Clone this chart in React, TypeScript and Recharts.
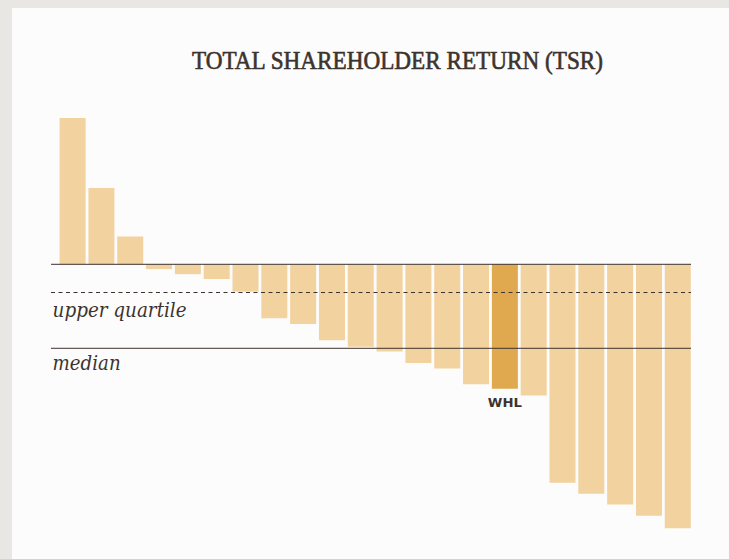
import React from "react";
import { BarChart, Bar, XAxis, YAxis, Cell, ReferenceLine, LabelList } from "recharts";

const companies = [
  "C01", "C02", "C03", "C04", "C05", "C06", "C07", "C08", "C09", "C10", "C11",
  "C12", "C13", "C14", "C15", "WHL", "C17", "C18", "C19", "C20", "C21", "C22",
];
const tsr = [
  48.8, 25.4, 9.3, -1.6, -3.3, -4.9, -9.1, -18.0, -19.9, -25.3, -27.5,
  -29.1, -32.9, -34.7, -40.0, -41.5, -43.7, -72.8, -76.5, -80.1, -83.8, -88.0,
];
const highlight = "WHL";
const upperQuartile = -9.4;
const median = -28.0;
const title = "TOTAL SHAREHOLDER RETURN (TSR)";
const upperLabel = "upper quartile";
const medianLabel = "median";

const data = companies.map((name, i) => ({ name, tsr: tsr[i] }));

const INK = "#3d332e";
const BAR = "#f2d29e";
const BAR_HI = "#e0a950";
const TITLE_FONT = "'Liberation Serif', serif";
const LABEL_FONT = "'DejaVu Serif', serif";

const makeLine = (dash?: string, label?: string, labelWidth?: number, labelDy?: number) => (props: any) => {
  const { x1, x2, y1 } = props;
  return (
    <g>
      <line x1={x1 - 7.6} x2={x2 - 1.6} y1={y1} y2={y1} stroke={INK} strokeWidth={1} strokeDasharray={dash} />
      {label ? (
        <text
          x={x1 - 6}
          y={y1 + (labelDy || 0)}
          fill={INK}
          style={{ fontFamily: LABEL_FONT, fontSize: 20, fontStyle: "italic" }}
          textLength={labelWidth}
          lengthAdjust="spacingAndGlyphs"
        >
          {label}
        </text>
      ) : null}
    </g>
  );
};

const WhlLabel = (props: any) => {
  const { x, y, width, height, value } = props;
  if (value !== highlight) return null;
  const bottom = Math.max(Number(y), Number(y) + Number(height));
  return (
    <text
      x={Number(x) + Number(width) / 2}
      y={bottom + 17.7}
      textAnchor="middle"
      fill={INK}
      style={{ fontFamily: "'DejaVu Sans', sans-serif", fontWeight: "bold", fontSize: 12.5 }}
      textLength={34}
      lengthAdjust="spacingAndGlyphs"
    >
      {value}
    </text>
  );
};

export default function App() {
  return (
    <div style={{ position: "fixed", left: 0, top: 0, width: 729, height: 559, background: "#e8e7e3" }}>
      <div style={{ position: "absolute", left: 12, top: 8, width: 717, height: 551, background: "#fcfcfc" }} />
      <svg width={729} height={100} style={{ position: "absolute", left: 0, top: 0 }}>
        <text
          x={397.5}
          y={68.5}
          textAnchor="middle"
          fill={INK}
          stroke={INK}
          strokeWidth={0.6}
          style={{ fontFamily: TITLE_FONT, fontSize: 24.5 }}
          textLength={411}
          lengthAdjust="spacingAndGlyphs"
        >
          {title}
        </text>
      </svg>
      <div style={{ position: "absolute", left: 0, top: 0 }}>
        <BarChart
          width={729}
          height={559}
          data={data}
          margin={{ top: 114.3, bottom: 24.7, left: 58.6, right: 36.4 }}
        >
          <XAxis dataKey="name" hide />
          <YAxis domain={[-90, 50]} hide allowDataOverflow />
          <Bar dataKey="tsr" barSize={26} isAnimationActive={false}>
            {data.map((d) => (
              <Cell key={d.name} fill={d.name === highlight ? BAR_HI : BAR} />
            ))}
            <LabelList dataKey="name" content={WhlLabel} />
          </Bar>
          <ReferenceLine y={0} shape={makeLine()} ifOverflow="visible" />
          <ReferenceLine y={upperQuartile} shape={makeLine("4 3.5", upperLabel, 134, 24.2)} ifOverflow="visible" />
          <ReferenceLine y={median} shape={makeLine(undefined, medianLabel, 68, 21.7)} ifOverflow="visible" />
        </BarChart>
      </div>
    </div>
  );
}
